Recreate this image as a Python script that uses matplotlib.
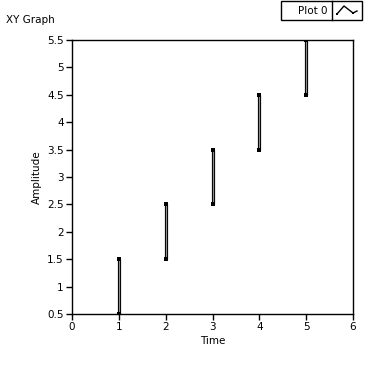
import numpy as np
import matplotlib.pyplot as plt
from matplotlib.patches import Rectangle
from matplotlib.lines import Line2D

# donnees
t = [1, 2, 3, 4, 5]
y_bas = [0.5, 1.5, 2.5, 3.5, 4.5]
y_haut = [1.5, 2.5, 3.5, 4.5, 5.5]
xticks = [0, 1, 2, 3, 4, 5, 6]
yticks = [0.5, 1, 1.5, 2, 2.5, 3, 3.5, 4, 4.5, 5, 5.5]

W, H = 378, 366
fig = plt.figure(figsize=(W/100, H/100), dpi=100)
ax = fig.add_axes([72/W, 1-314/H, (353-72)/W, (314-40)/H])

for x, a, b in zip(t, y_bas, y_haut):
    ax.plot([x, x], [a, b], color='k', lw=2.3, solid_capstyle='butt', zorder=3)
    ax.plot([x, x], [a, b], color='#8c8c8c', lw=0.8, solid_capstyle='butt', zorder=4)
    ax.plot([x, x], [a, b], 's', color='k', ms=2.4, mew=0, zorder=5)

ax.set_xlim(0, 6)
ax.set_ylim(0.5, 5.5)
ax.set_xticks(xticks)
ax.set_yticks(yticks)
ax.set_yticklabels([('%g' % v) for v in yticks])
ax.tick_params(direction='out', length=4, width=1, labelsize=7.5, pad=2)
for s in ax.spines.values():
    s.set_linewidth(1)
ax.set_xlabel('Time', fontsize=7.5, labelpad=3)
ax.set_ylabel('Amplitude', fontsize=7.5, labelpad=4)

fig.text(6/W, 1-20/H, 'XY Graph', fontsize=7.5, va='center', ha='left')

# legende facon LabVIEW
lx0, ly0, lw_, lh = 281/W, 1-20/H, 81/W, 19/H
fig.patches.append(Rectangle((lx0, ly0), lw_, lh, transform=fig.transFigure,
                             fill=False, ec='k', lw=1))
fig.text(lx0 + 17/W, ly0 + lh/2, 'Plot 0', fontsize=7.5, va='center', ha='left')
fig.lines.append(Line2D([332/W, 332/W], [ly0, ly0 + lh],
                        transform=fig.transFigure, color='k', lw=1))
ix = np.array([337, 344, 353, 357]) / W
iy = 1 - np.array([14, 6, 13, 11]) / H
fig.lines.append(Line2D(ix, iy, transform=fig.transFigure, color='k', lw=1))
fig.lines.append(Line2D(ix[[0, 2]], iy[[0, 2]], transform=fig.transFigure,
                        color='k', lw=0, marker='s', ms=2, mew=0))

fig.savefig('out.png', dpi=100)
